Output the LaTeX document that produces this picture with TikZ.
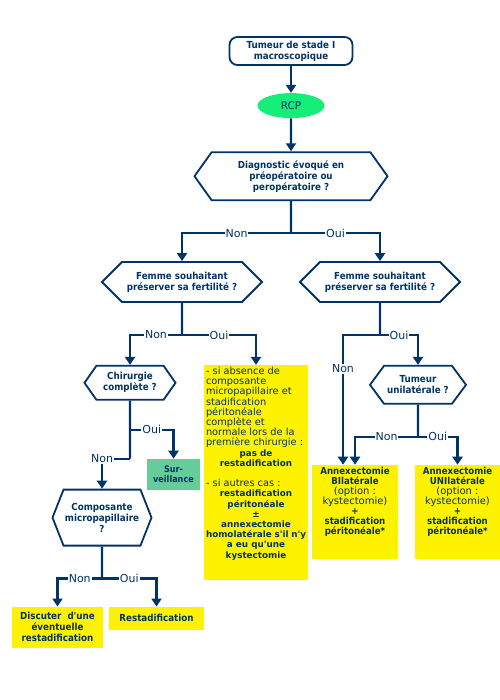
\documentclass[tikz,border=0pt]{standalone}
\usepackage{fontspec}
\setmainfont{DejaVu Sans}
\newfontfamily\condfont{DejaVu Sans Condensed}
\usetikzlibrary{arrows.meta, positioning, shapes.geometric, shapes.symbols}
\definecolor{navy}{RGB}{0,51,102}
\definecolor{rcpgreen}{RGB}{20,238,120}
\definecolor{survgreen}{RGB}{102,204,153}
\newcommand{\hexfont}{\condfont\bfseries\fontsize{9.7bp}{11bp}\selectfont}
\newcommand{\lblfont}{\fontsize{11bp}{13bp}\selectfont}
\newcommand{\boxfont}{\fontsize{9.8bp}{10.2bp}\selectfont}
\newcommand{\boxbold}{\bfseries\fontsize{8.8bp}{10.2bp}\selectfont}
\newcommand{\annfont}{\condfont\bfseries\fontsize{9.6bp}{10bp}\selectfont}
\newcommand{\annthin}{\normalfont\fontsize{10bp}{10bp}\selectfont}
\newcommand{\q}{\textquotesingle}

\begin{document}
\begin{tikzpicture}[
        >={Triangle[width=10bp, length=8bp]},
        every node/.style={text=navy},
        startblock/.style={draw=navy, line width=1.8bp, rounded corners=8bp, minimum width=123bp,
                      minimum height=28bp, inner sep=1bp, align=center, font=\hexfont},
        hexblock/.style={draw=navy, line width=1.8bp, signal, signal to=west and east,
                      inner sep=1bp, align=center, font=\hexfont},
        yellowblock/.style={fill=yellow, inner sep=2bp, align=center, font=\hexfont},
        arr/.style={->, draw=navy, line width=2.2bp},
        link/.style={draw=navy, line width=2.2bp},
        lbl/.style={fill=white, inner sep=1bp, font=\lblfont},
      ]
        \useasboundingbox (0,0) rectangle (500bp,-700bp);

        \node[startblock] (start) at (291bp,-51bp) {Tumeur de stade I\\macroscopique};
        \node[ellipse, fill=rcpgreen, minimum width=67bp, minimum height=25bp, inner sep=0pt,
              font=\fontsize{10.5bp}{12bp}\selectfont, below=27bp of start] (rcp) {RCP};
        \node[hexblock, minimum width=193bp, minimum height=48bp, signal pointer angle=109,
              below=33bp of rcp] (diag) {Diagnostic évoqué en\\préopératoire ou\\peropératoire ?};

        \node[hexblock, minimum width=160bp, minimum height=40bp, signal pointer angle=90,
              below=60bp of diag, xshift=-109bp] (femL) {Femme souhaitant\\préserver sa fertilité ?};
        \node[hexblock, minimum width=160bp, minimum height=40bp, signal pointer angle=90,
              below=60bp of diag, xshift=89bp] (femR) {Femme souhaitant\\préserver sa fertilité ?};

        \node[hexblock, minimum width=91bp, minimum height=34bp, signal pointer angle=110,
              below=62bp of femL, xshift=-52bp] (chir) {Chirurgie\\complète ?};
        \node[yellowblock, below=62bp of femL, xshift=74bp, font=\boxfont] (cas) {\parbox[c][211bp][t]{100bp}{\raggedright
          - si absence de\\composante\\micropapillaire et\\stadification\\péritonéale\\complète et\\normale lors de la\\première chirurgie :\par
          {\centering\boxbold pas de\\restadification\par}
          \vspace{10.2bp}
          - si autres cas :\par
          {\centering\boxbold restadification\\péritonéale\\±\\annexectomie\\homolatérale~s\q il~n\q y\\a~eu~qu\q une\\kystectomie\par}}};
        \node[fill=survgreen, minimum width=53bp, minimum height=31bp, inner sep=1bp, align=center,
              font=\condfont\bfseries\fontsize{9bp}{10.5bp}\selectfont, below=58bp of chir, xshift=43.5bp] (surv) {Sur-\\veillance};
        \node[hexblock, minimum width=99bp, minimum height=56bp, signal pointer angle=137,
              below=88bp of chir, xshift=-28bp] (comp) {Composante\\micropapillaire\\?};
        \node[yellowblock, minimum width=91bp, minimum height=41bp, below=60bp of comp,
              xshift=-44.5bp] (disc) {Discuter~ d\q une\\éventuelle\\restadification};
        \node[yellowblock, minimum width=95bp, minimum height=23bp, below=60bp of comp,
              xshift=54.5bp] (resta) {Restadification};

        \node[hexblock, minimum width=96bp, minimum height=38bp, signal pointer angle=107,
              below=62bp of femR, xshift=38bp] (tum) {Tumeur\\unilatérale ?};
        \node[yellowblock, below=60bp of tum, xshift=-63bp] (annB) {\parbox[c][90bp][t]{82bp}{\centering\annfont
          Annexectomie\\BIlatérale\\{\annthin (option :\\kystectomie)}\\+\\stadification\\péritonéale*}};
        \node[yellowblock, below=60bp of tum, xshift=39.5bp] (annU) {\parbox[c][90bp][t]{81bp}{\centering\annfont
          Annexectomie\\UNIlatérale\\{\annthin (option :\\kystectomie)}\\+\\stadification\\péritonéale*}};

        \coordinate[below=32bp of diag] (d1);
        \coordinate[below=32bp of femL] (f1);
        \coordinate[below=32bp of femR] (g1);
        \coordinate[below=29bp of chir] (c1);
        \coordinate[below=58bp of chir] (c2);
        \coordinate[below=32bp of comp] (p1);
        \coordinate[below=32bp of tum] (t1);

        \draw[arr] (start) -- (rcp);
        \draw[arr] (rcp) -- (diag);
        \draw[link] (diag) -- (d1);
        \draw[arr] (d1) -| node[lbl, pos=0.25] {Non} (femL);
        \draw[arr] (d1) -| node[lbl, pos=0.25] {Oui} (femR);

        \draw[link] (femL) -- (f1);
        \draw[arr] (f1) -| node[lbl, pos=0.25] {Non} (chir);
        \draw[arr] (f1) -| node[lbl, pos=0.25] {Oui} (cas);
        \draw[link] (chir) -- (c2);
        \draw[arr] (c1) -| node[lbl, pos=0.25] {Oui} (surv);
        \draw[arr] (c2) -| node[lbl, pos=0.5] {Non} (comp);
        \draw[link] (comp) -- (p1);
        \draw[arr] (p1) -| node[lbl, pos=0.25] {Non} (disc);
        \draw[arr] (p1) -| node[lbl, pos=0.25] {Oui} (resta);

        \draw[link] (femR) -- (g1);
        \draw[arr] (g1) -| node[lbl, pos=0.63] {Non} ([xshift=-12bp]annB.north);
        \draw[arr] (g1) -| node[lbl, pos=0.25] {Oui} (tum);
        \draw[link] (tum) -- (t1);
        \draw[arr] (t1) -| node[lbl, pos=0.25] {Non} (annB);
        \draw[arr] (t1) -| node[lbl, pos=0.25] {Oui} (annU);
      \end{tikzpicture}
\end{document}
